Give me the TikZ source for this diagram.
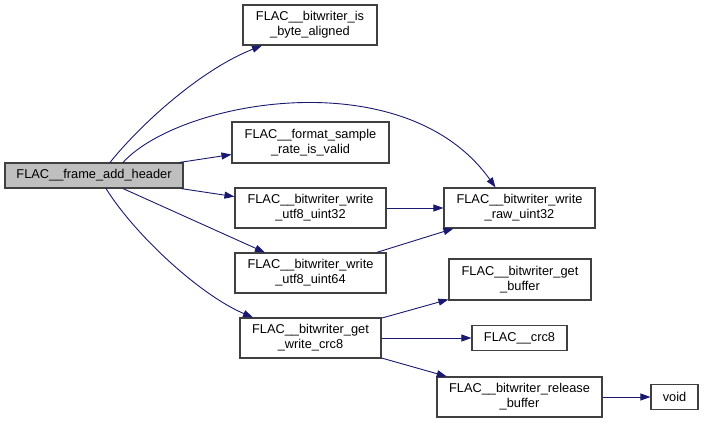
\documentclass[tikz,border=0pt]{standalone}
\usepackage{fontspec}
\setmainfont{Liberation Sans}
\usetikzlibrary{arrows.meta}
\definecolor{edgeblue}{RGB}{25,25,112}
\definecolor{boxline}{RGB}{64,64,64}
\definecolor{hdrfill}{RGB}{191,191,191}
\begin{document}
\begin{tikzpicture}[x=1pt,y=-1pt,
  fn/.style={draw=boxline,line width=1.1pt,fill=white,inner sep=0pt,align=center,
    font=\fontsize{12.8}{15}\selectfont},
  e/.style={draw=edgeblue,line width=0.9pt,-{Triangle[length=10pt,width=7pt]}}]
\useasboundingbox (0,0) rectangle (704,423);
\node[fn,fill=hdrfill,minimum width=178pt,minimum height=25pt] (hdr) at (94,175.5) {FLAC\_\_frame\_add\_header};
\node[fn,minimum width=134pt,minimum height=40pt] (iba) at (310,25) {FLAC\_\_bitwriter\_is\\\_byte\_aligned};
\node[fn,minimum width=157pt,minimum height=41pt] (fmt) at (310.5,142.5) {FLAC\_\_format\_sample\\\_rate\_is\_valid};
\node[fn,minimum width=151pt,minimum height=40pt] (u32) at (310.5,208) {FLAC\_\_bitwriter\_write\\\_utf8\_uint32};
\node[fn,minimum width=151pt,minimum height=40pt] (u64) at (310.5,273) {FLAC\_\_bitwriter\_write\\\_utf8\_uint64};
\node[fn,minimum width=141pt,minimum height=40pt] (crc) at (310.5,338) {FLAC\_\_bitwriter\_get\\\_write\_crc8};
\node[fn,minimum width=151pt,minimum height=40pt] (raw) at (519.5,208) {FLAC\_\_bitwriter\_write\\\_raw\_uint32};
\node[fn,minimum width=142pt,minimum height=41pt] (gb) at (520,279.5) {FLAC\_\_bitwriter\_get\\\_buffer};
\node[fn,minimum width=95pt,minimum height=25pt] (c8) at (519.5,338) {FLAC\_\_crc8};
\node[fn,minimum width=165pt,minimum height=40pt] (rel) at (519.5,397) {FLAC\_\_bitwriter\_release\\\_buffer};
\node[fn,minimum width=47pt,minimum height=25pt] (void) at (674.5,397) {void};
\draw[e] ([xshift=16pt]hdr.north) .. controls (140,125) and (200,70) .. ([xshift=-48pt]iba.south);
\draw[e] ([xshift=29pt]hdr.north) .. controls (180,100) and (405,60) .. ([xshift=-24pt]raw.north);
\draw[e] (hdr) -- (fmt);
\draw[e] (hdr) -- (u32);
\draw[e] (hdr) -- (u64);
\draw[e] ([xshift=12pt]hdr.south) .. controls (135,235) and (200,295) .. ([xshift=-57.5pt]crc.north);
\draw[e] (u32) -- (raw);
\draw[e] (u64) -- (raw);
\draw[e] (crc) -- (gb);
\draw[e] (crc) -- (c8);
\draw[e] (crc) -- (rel);
\draw[e] (rel) -- (void);
\end{tikzpicture}
\end{document}
